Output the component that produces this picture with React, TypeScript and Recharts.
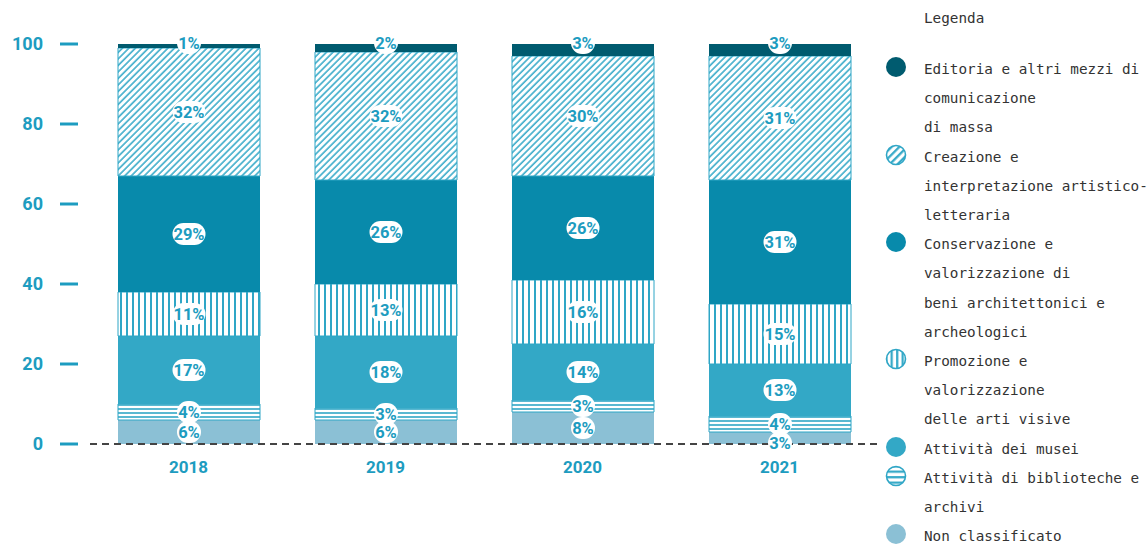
import { BarChart, Bar, XAxis, YAxis, ReferenceLine, LabelList, Legend } from "recharts";

const years = ["2018", "2019", "2020", "2021"];
const nonClassificato = [6, 6, 8, 3];
const biblioteche = [4, 3, 3, 4];
const musei = [17, 18, 14, 13];
const promozione = [11, 13, 16, 15];
const conservazione = [29, 26, 26, 31];
const creazione = [32, 32, 30, 31];
const editoria = [1, 2, 3, 3];
const yTicks = [0, 20, 40, 60, 80, 100];

const TEAL = "#1d9cc0";
const STRIPE = "#2fa6c6";

// bottom to top
const series = [
  { key: "nonClassificato", name: "Non classificato", values: nonClassificato, fill: "#8bc0d5", pattern: null },
  { key: "biblioteche", name: "Attività di biblioteche e\narchivi", values: biblioteche, fill: "url(#p-horiz)", pattern: "horiz" },
  { key: "musei", name: "Attività dei musei", values: musei, fill: "#33a8c6", pattern: null },
  { key: "promozione", name: "Promozione e\nvalorizzazione\ndelle arti visive", values: promozione, fill: "url(#p-vert)", pattern: "vert" },
  { key: "conservazione", name: "Conservazione e\nvalorizzazione di\nbeni architettonici e\narcheologici", values: conservazione, fill: "#088aab", pattern: null },
  { key: "creazione", name: "Creazione e\ninterpretazione artistico-\nletteraria", values: creazione, fill: "url(#p-diag)", pattern: "diag" },
  { key: "editoria", name: "Editoria e altri mezzi di\ncomunicazione\ndi massa", values: editoria, fill: "#005b6f", pattern: null },
];

const data = years.map((year, i) => {
  const row: Record<string, string | number> = { year };
  series.forEach((s) => (row[s.key] = s.values[i]));
  return row;
});

const font = "Roboto, 'Noto Sans', sans-serif";

function PillLabel(props: any) {
  const { x, y, width, height, value, anchor } = props;
  const cx = x + width / 2;
  const top = Math.min(y, y + height);
  const h = Math.abs(height);
  let cy = top + h / 2;
  if (anchor === "top") cy = top - 1;
  if (anchor === "bottom" && h < 14) cy = top + h - 1;
  const text = `${value}%`;
  const w = text.length * 9 + 6;
  return (
    <g>
      <rect x={cx - w / 2} y={cy - 11} width={w} height={22} rx={11} fill="#fff" />
      <text x={cx} y={cy} dy="0.36em" textAnchor="middle" fill={TEAL} fontFamily={font} fontWeight={700} fontSize={16.5}>
        {text}
      </text>
    </g>
  );
}

function YTick(props: any) {
  const { x, y, payload } = props;
  return (
    <g>
      <line x1={x - 30} x2={x - 12} y1={y} y2={y} stroke={TEAL} strokeWidth={3} />
      <text x={x - 47} y={y} dy="0.36em" textAnchor="end" fill={TEAL} fontFamily={font} fontWeight={700} fontSize={18}>
        {payload.value}
      </text>
    </g>
  );
}

function XTick(props: any) {
  const { x, y, payload } = props;
  return (
    <text x={x} y={y + 23} dy="0.36em" textAnchor="middle" fill={TEAL} fontFamily={font} fontWeight={700} fontSize={17}>
      {payload.value}
    </text>
  );
}

function LegendIcon({ s }: { s: (typeof series)[number] }) {
  const id = `icon-${s.key}`;
  if (!s.pattern) {
    return (
      <svg width={22} height={22}>
        <circle cx={11} cy={11} r={10} fill={s.fill} />
      </svg>
    );
  }
  return (
    <svg width={22} height={22}>
      <defs>
        <pattern
          id={id}
          width={5.5}
          height={5.5}
          patternUnits="userSpaceOnUse"
          patternTransform={s.pattern === "diag" ? "rotate(45)" : s.pattern === "horiz" ? "rotate(90)" : undefined}
        >
          <rect width={5.5} height={5.5} fill="#fff" />
          <line x1={1.2} x2={1.2} y1={0} y2={5.5} stroke={STRIPE} strokeWidth={2.2} />
        </pattern>
      </defs>
      <circle cx={11} cy={11} r={9.5} fill={`url(#${id})`} stroke={STRIPE} strokeWidth={1.6} />
    </svg>
  );
}

function LegendContent() {
  return (
    <div style={{ fontFamily: "'DejaVu Sans Mono', 'Liberation Mono', monospace", fontSize: 14.3, color: "#333" }}>
      <div style={{ height: 55, lineHeight: "36px", paddingLeft: 40 }}>Legenda</div>
      {[...series].reverse().map((s) => (
        <div key={s.key} style={{ position: "relative", paddingLeft: 40 }}>
          <div style={{ position: "absolute", left: 1, top: 1 }}>
            <LegendIcon s={s} />
          </div>
          {s.name.split("\n").map((line, i) => (
            <div key={i} style={{ lineHeight: "29.2px", whiteSpace: "nowrap" }}>
              {line}
            </div>
          ))}
        </div>
      ))}
    </div>
  );
}

export default function App() {
  return (
    <div style={{ position: "absolute", left: 0, top: 0, width: 1148, height: 544, background: "#fff" }}>
      <BarChart width={1148} height={544} data={data} margin={{ top: 44, right: 270, bottom: 0, left: 0 }}>
        <defs>
          <pattern id="p-diag" width={4.6} height={4.6} patternUnits="userSpaceOnUse" patternTransform="rotate(45)">
            <rect width={4.6} height={4.6} fill="#fff" />
            <line x1={1} x2={1} y1={0} y2={4.6} stroke={STRIPE} strokeWidth={1.5} />
          </pattern>
          <pattern id="p-vert" width={6} height={6} patternUnits="userSpaceOnUse">
            <rect width={6} height={6} fill="#fff" />
            <line x1={1} x2={1} y1={0} y2={6} stroke={STRIPE} strokeWidth={2} />
          </pattern>
          <pattern id="p-horiz" width={4} height={4} patternUnits="userSpaceOnUse">
            <rect width={4} height={4} fill="#fff" />
            <line x1={0} x2={4} y1={1} y2={1} stroke={STRIPE} strokeWidth={1.6} />
          </pattern>
        </defs>
        <XAxis dataKey="year" axisLine={false} tickLine={false} tickSize={0} tickMargin={0} height={100} tick={<XTick />} />
        <YAxis
          domain={[0, 100]}
          ticks={yTicks}
          axisLine={false}
          tickLine={false}
          tickSize={0}
          tickMargin={0}
          width={90}
          tick={<YTick />}
        />
        {series.map((s, i) => (
          <Bar
            key={s.key}
            dataKey={s.key}
            name={s.name}
            stackId="a"
            fill={s.fill}
            stroke={s.pattern ? STRIPE : "none"}
            strokeWidth={s.pattern ? 1 : 0}
            barSize={142}
            isAnimationActive={false}
          >
            <LabelList
              dataKey={s.key}
              content={<PillLabel anchor={i === series.length - 1 ? "top" : i === 0 ? "bottom" : "center"} />}
            />
          </Bar>
        ))}
        <ReferenceLine y={0} stroke="#444" strokeWidth={2} strokeDasharray="7 5" />
        <Legend
          layout="vertical"
          align="center"
          verticalAlign="middle"
          content={<LegendContent />}
          wrapperStyle={{ position: "absolute", left: 884, top: 0, width: 264 }}
        />
      </BarChart>
    </div>
  );
}
